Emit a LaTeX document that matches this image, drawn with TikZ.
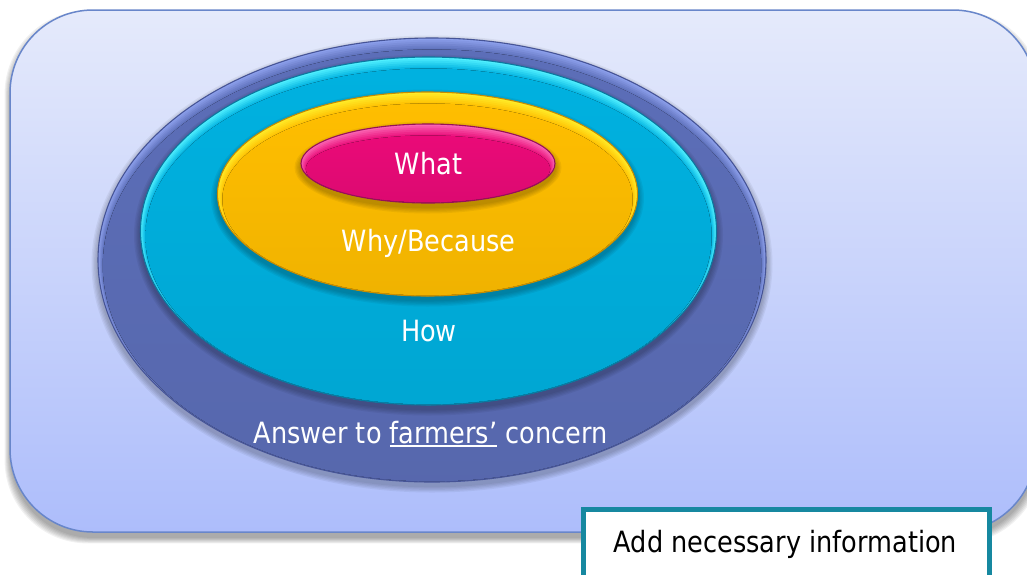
\documentclass[tikz,border=0pt]{standalone}
\usepackage{fontspec}
\setmainfont[FakeStretch=0.873]{DejaVu Sans}
\usetikzlibrary{shapes.geometric}

% panel colours
\definecolor{panelTop}{RGB}{229,234,251}
\definecolor{panelBot}{RGB}{173,189,251}
\definecolor{panelEdge}{RGB}{104,134,202}
% ring colours: rim highlight, body, outline
\definecolor{outerLight}{RGB}{140,160,236}
\definecolor{outerBody}{RGB}{92,110,184}
\definecolor{outerEdge}{RGB}{70,84,150}
\definecolor{cyanLight}{RGB}{80,240,255}
\definecolor{cyanBody}{RGB}{0,177,224}
\definecolor{cyanEdge}{RGB}{10,120,160}
\definecolor{goldLight}{RGB}{255,236,40}
\definecolor{goldBody}{RGB}{255,190,0}
\definecolor{goldEdge}{RGB}{200,140,0}
\definecolor{pinkLight}{RGB}{250,100,178}
\definecolor{pinkBody}{RGB}{234,10,120}
\definecolor{pinkEdge}{RGB}{150,16,88}
\definecolor{noteEdge}{RGB}{22,136,160}

% one bevelled disc: centre x, centre y, radius x, radius y, name, rim, body, outline
\newcommand{\bevelring}[8]{%
  \foreach \s in {1,...,5}
    \fill[black, opacity=0.05] (#1,#2+4) ellipse ({#3+\s*1.3} and {#4+\s*1.3});
  \foreach \k in {0,...,5} {
    \pgfmathtruncatemacro\rimmix{100-\k*17}
    \fill[#6!\rimmix!#7] (#1,#2+0.9*\k) ellipse ({#3-0.8*\k} and {#4-1.0*\k});
  }
  \fill[top color=#7, bottom color=#7!94!black] (#1,#2+5.4) ellipse ({#3-4.8} and {#4-6});
  \node[disc, draw=#8, minimum width={2*#3pt}, minimum height={2*#4pt}] (#5) at (#1,#2) {};
}

\tikzset{
  disc/.style={ellipse, inner sep=0pt, outer sep=0pt, line width=1.1pt},
  lbl/.style={font=\fontsize{29.3}{35}\selectfont, text=white, inner sep=0pt, anchor=base},
}

\begin{document}
\begin{tikzpicture}[x=1pt, y=-1pt]
\useasboundingbox (0,0) rectangle (1027,574);
\clip (0,0) rectangle (1027,574);

% soft shadow of the panel
\foreach \s in {0,...,6}
  \fill[black, opacity=0.055, rounded corners=83pt]
    (10-\s*0.9, 16-\s*0.9) rectangle (1036+\s*0.9, 538+\s*0.9);

% panel
\node[draw=panelEdge, line width=1.5pt, rounded corners=83pt,
      top color=panelTop, bottom color=panelBot,
      minimum width=1026pt, minimum height=522pt, inner sep=0pt, outer sep=0pt]
  (panel) at (523,271) {};

% nested discs
\bevelring{432}{260}{334}{222}{outer}{outerLight}{outerBody}{outerEdge}
\bevelring{428.5}{231}{288}{174}{how}{cyanLight}{cyanBody}{cyanEdge}
\bevelring{427.5}{194}{210}{102}{why}{goldLight}{goldBody}{goldEdge}
\bevelring{428}{163.5}{127}{39.5}{what}{pinkLight}{pinkBody}{pinkEdge}

% labels
\node[lbl] (twhat) at (428.5,174) {What};
\node[lbl] (twhy) at (428.5,251) {Why/Because};
\node[lbl] (thow) at (429,341) {How};
\node[lbl] (tans) at (430.5,443)
  {Answer to {\setbox0\hbox{farmers’}\rlap{\rule[-4pt]{\wd0}{1.8pt}}\box0} concern};

% note box
\node[draw=noteEdge, line width=5pt, fill=white, inner sep=0pt, outer sep=0pt,
      minimum width=405.5pt, minimum height=100pt, anchor=north west]
  (note) at (583.5,509.5) {};
\node[lbl, text=black] (tnote) at (785.5,552) {Add necessary information};
\end{tikzpicture}
\end{document}
